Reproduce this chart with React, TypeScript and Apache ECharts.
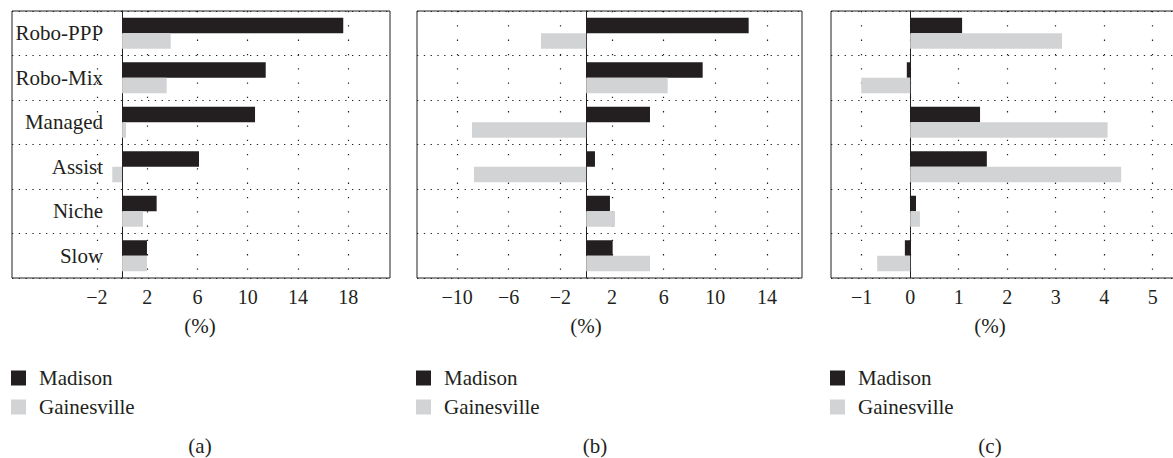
import React, { useEffect, useRef } from "react";
import * as echarts from "echarts";

const categories = ["Robo-PPP", "Robo-Mix", "Managed", "Assist", "Niche", "Slow"];
const seriesNames = ["Madison", "Gainesville"];

const aMadison = [17.6, 11.43, 10.58, 6.12, 2.75, 1.98];
const aGainesville = [3.87, 3.55, 0.31, -0.78, 1.66, 1.98];
const bMadison = [12.58, 9.02, 4.94, 0.68, 1.84, 2.05];
const bGainesville = [-3.5, 6.31, -8.84, -8.69, 2.23, 4.94];
const cMadison = [1.07, -0.07, 1.44, 1.58, 0.12, -0.11];
const cGainesville = [3.13, -1.01, 4.07, 4.35, 0.2, -0.68];

const aTicks = [-2, 2, 6, 10, 14, 18];
const bTicks = [-10, -6, -2, 2, 6, 10, 14];
const cTicks = [-1, 0, 1, 2, 3, 4, 5];

const panelLabels = ["(a)", "(b)", "(c)"];
const unitLabel = "(%)";

const DARK = "#231f20";
const LIGHT = "#d1d3d4";
const FONT = "Liberation Serif";

export default function App() {
  const ref = useRef<HTMLDivElement>(null);

  useEffect(() => {
    document.body.style.margin = "0";
    const chart = echarts.init(ref.current!, null, { renderer: "svg" });

    const panels = [
      { left: 12, width: 378, min: -8.76, max: 21.32, ticks: aTicks, m: aMadison, g: aGainesville, showCat: true, unitX: 200, subX: 200 },
      { left: 417, width: 385, min: -13.1, max: 16.71, ticks: bTicks, m: bMadison, g: bGainesville, showCat: false, unitX: 586, subX: 595 },
      { left: 831, width: 345, min: -1.633, max: 5.48, ticks: cTicks, m: cMadison, g: cGainesville, showCat: false, unitX: 990, subX: 990 },
    ];

    const fmt = (v: number) => (v < 0 ? "\u2212" + Math.abs(v) : String(v));

    const option: any = {
      animation: false,
      textStyle: { fontFamily: FONT },
      grid: panels.map((p) => ({
        left: p.left,
        top: 11,
        width: p.width,
        height: 267,
        show: true,
        borderColor: DARK,
        borderWidth: 1,
        backgroundColor: "transparent",
        containLabel: false,
        outerBoundsMode: "none",
      })),
      xAxis: panels.map((p, i) => ({
        type: "value",
        gridIndex: i,
        min: p.min,
        max: p.max,
        axisLine: { show: false },
        axisTick: { show: false, customValues: p.ticks },
        axisLabel: {
          customValues: p.ticks,
          formatter: fmt,
          fontFamily: FONT,
          fontSize: 20,
          color: DARK,
          margin: 9,
        },
        splitLine: {
          show: true,
          lineStyle: { color: DARK, width: 1.2, type: [1.3, 13] },
        },
      })),
      yAxis: panels.map((p, i) => ({
        type: "category",
        gridIndex: i,
        data: categories,
        inverse: true,
        offset: -(((0 - p.min) / (p.max - p.min)) * p.width),
        axisLine: { show: true, onZero: false, lineStyle: { color: DARK, width: 1 } },
        axisTick: { show: false },
        axisLabel: {
          show: p.showCat,
          fontFamily: FONT,
          fontSize: 21,
          color: DARK,
          margin: 19,
        },
        splitLine: {
          show: true,
          interval: 0,
          lineStyle: { color: DARK, width: 1.2, type: [1.3, 5.5] },
        },
      })),
      legend: panels.map((p) => ({
        data: seriesNames,
        orient: "vertical",
        left: p.left - 1,
        top: 367,
        padding: 0,
        icon: "rect",
        itemWidth: 15,
        itemHeight: 15,
        itemGap: 7,
        selectedMode: false,
        textStyle: {
          fontFamily: FONT,
          fontSize: 21,
          lineHeight: 22,
          color: DARK,
          padding: [0, 0, 0, 8],
        },
      })),
      series: panels.flatMap((p, i) => [
        {
          name: seriesNames[0],
          type: "bar",
          xAxisIndex: i,
          yAxisIndex: i,
          data: p.m,
          barWidth: 15.5,
          barGap: "0%",
          itemStyle: { color: DARK },
        },
        {
          name: seriesNames[1],
          type: "bar",
          xAxisIndex: i,
          yAxisIndex: i,
          data: p.g,
          barWidth: 15.5,
          barGap: "0%",
          itemStyle: { color: LIGHT },
        },
      ]),
      graphic: panels.flatMap((p, i) => [
        {
          type: "text",
          x: p.unitX,
          y: 326,
          style: { text: unitLabel, fontFamily: FONT, fontSize: 21, fill: DARK, align: "center", verticalAlign: "middle" },
        },
        {
          type: "text",
          x: p.subX,
          y: 446,
          style: { text: panelLabels[i], fontFamily: FONT, fontSize: 21, fill: DARK, align: "center", verticalAlign: "middle" },
        },
      ]),
    };

    chart.setOption(option);
    return () => chart.dispose();
  }, []);

  return <div ref={ref} style={{ width: 1173, height: 458, position: "absolute", left: 0, top: 0 }} />;
}
